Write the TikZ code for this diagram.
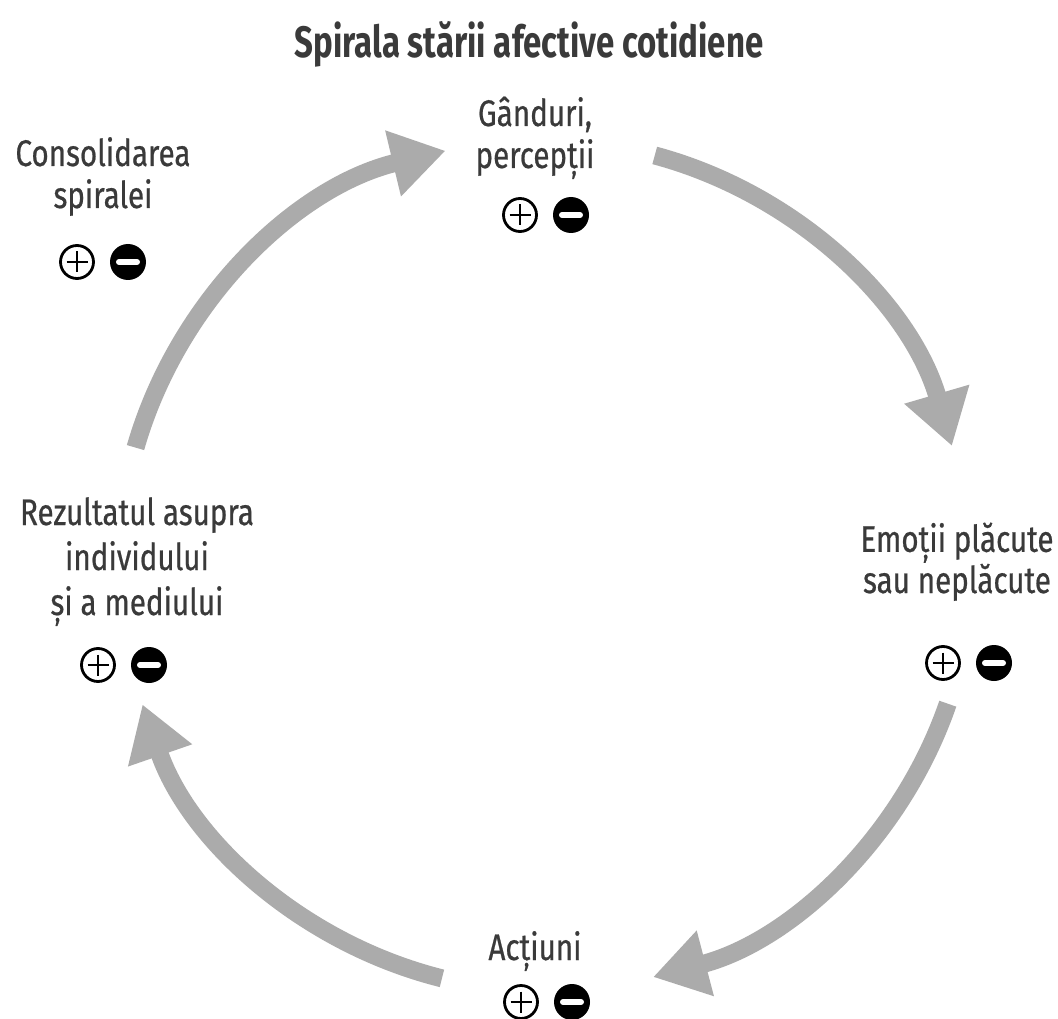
\documentclass[tikz,border=0pt]{standalone}
\usepackage{fontspec}
\setmainfont{Fira Sans}[FakeStretch=0.8,FakeBold=0.6,BoldFeatures={FakeStretch=0.75,FakeBold=0}]
\usetikzlibrary{arrows.meta,calc}
\definecolor{arrowgray}{HTML}{ABABAB}
\definecolor{txt}{HTML}{3A3A3A}
\tikzset{
  bigarrow/.style={draw=arrowgray,line width=18pt,
    -{Triangle[length=54pt,width=64pt]}},
  lbl/.style={text=txt,font=\fontsize{37}{42}\selectfont,align=center,anchor=base,inner sep=0pt},
  ttl/.style={text=txt,font=\fontsize{44}{50}\selectfont\bfseries,anchor=base,inner sep=0pt},
  plusic/.style={circle,draw=black,line width=2.8pt,minimum size=33pt,inner sep=0pt,
    path picture={\draw[line width=2.8pt] ($(path picture bounding box.center)+(-10.5,0)$) -- ($(path picture bounding box.center)+(10.5,0)$);
                  \draw[line width=2.8pt] ($(path picture bounding box.center)+(0,-10.5)$) -- ($(path picture bounding box.center)+(0,10.5)$);}},
  minusic/.style={circle,fill=black,minimum size=36pt,inner sep=0pt,
    path picture={\draw[white,line width=6pt,line cap=round] ($(path picture bounding box.center)+(-9,0)$) -- ($(path picture bounding box.center)+(9,0)$);}}
}
\begin{document}
\begin{tikzpicture}[x=1pt,y=-1pt]
\useasboundingbox (0,0) rectangle (1058,1019);
\fill[white] (0,0) rectangle (1058,1019);
\coordinate (c) at (545,565);
% title
\node[ttl] (title) at (529,58) {Spirala stării afective cotidiene};
% labels (anchor = baseline of last line)
\node[lbl] (gand) at (535,168) {Gânduri,\\percepții};
\node[lbl] (cons) at (103,208) {Consolidarea\\spiralei};
\node[lbl,font=\fontsize{37}{39}\selectfont] (emot) at (957,593) {Emoții plăcute\\sau neplăcute};
\node[lbl,font=\fontsize{37}{45}\selectfont] (rez) at (137,615) {Rezultatul asupra\\individului\\și a mediului};
\node[lbl] (act) at (535,960) {Acțiuni};
% icons
\node[plusic] (gand-p) at (520,215) {};
\node[minusic] (gand-m) at (571,215) {};
\node[plusic] (cons-p) at (77,262) {};
\node[minusic] (cons-m) at (128,262) {};
\node[plusic] (emot-p) at (943,663) {};
\node[minusic] (emot-m) at (994,663) {};
\node[plusic] (rez-p) at (98,665) {};
\node[minusic] (rez-m) at (149,665) {};
\node[plusic] (act-p) at (521,1002) {};
\node[minusic] (act-m) at (572,1002) {};
% arrows (screen angles, clockwise)
\coordinate (a1) at ($(c)+(-75:424)$);
\coordinate (a2) at ($(c)+(19:426)$);
\coordinate (a3) at ($(c)+(104:426)$);
\coordinate (a4) at ($(c)+(196:426)$);
\draw[bigarrow] (a1) arc[start angle=-75,end angle=-16.3,radius=424];
\draw[bigarrow] (a2) arc[start angle=19,end angle=75.3,radius=426];
\draw[bigarrow] (a3) arc[start angle=104,end angle=160.9,radius=426];
\draw[bigarrow] (a4) arc[start angle=196,end angle=256.5,radius=426];
\end{tikzpicture}
\end{document}
